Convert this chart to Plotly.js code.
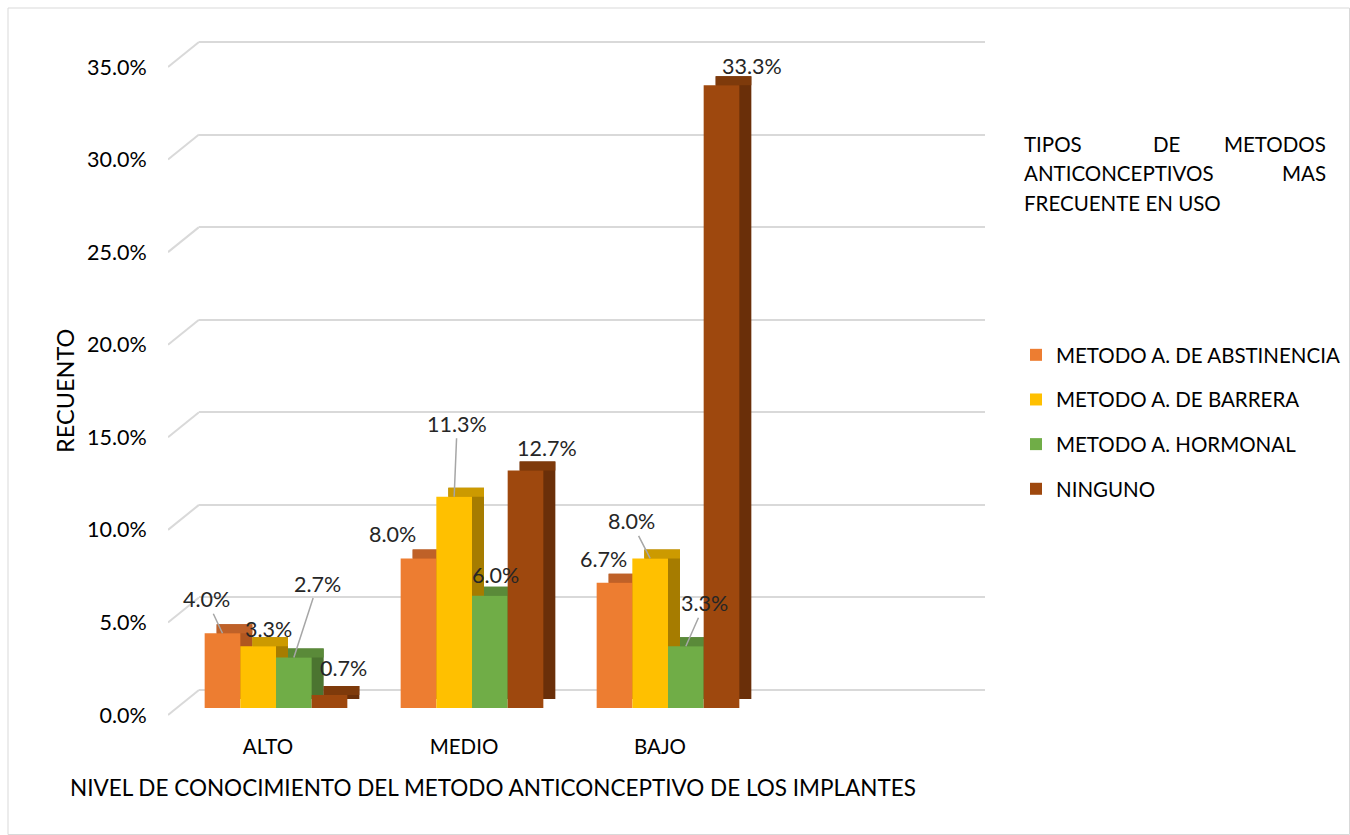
<!DOCTYPE html>
<html>
<head>
<meta charset="utf-8">
<script src="https://cdn.plot.ly/plotly-3.0.1.min.js"></script>
<style>html,body{margin:0;padding:0;background:#fff;}#chart{width:1350px;height:835px;}</style>
</head>
<body>
<div id="chart"></div>
<script>
// ---------- data ----------
const categories = ['ALTO', 'MEDIO', 'BAJO'];
const seriesNames = ['METODO A. DE ABSTINENCIA', 'METODO A. DE BARRERA', 'METODO A. HORMONAL', 'NINGUNO'];
const abstinencia = [4.0, 8.0, 6.7];
const barrera = [3.3, 11.3, 8.0];
const hormonal = [2.7, 6.0, 3.3];
const ninguno = [0.7, 12.7, 33.3];
const yTickVals = [0, 5, 10, 15, 20, 25, 30, 35];
const yTickText = ['0.0%', '5.0%', '10.0%', '15.0%', '20.0%', '25.0%', '30.0%', '35.0%'];
const legendTitleLines = [['TIPOS', 'DE', 'METODOS'], ['ANTICONCEPTIVOS', 'MAS'], ['FRECUENTE EN USO']];
const yTitle = 'RECUENTO';
const xTitle = 'NIVEL DE CONOCIMIENTO DEL METODO ANTICONCEPTIVO DE LOS IMPLANTES';

// ---------- styles / layout helpers ----------
const series = [abstinencia, barrera, hormonal, ninguno];
const frontColors = ['#ED7D31', '#FFC000', '#70AD47', '#9E480E'];
const topColors = ['#BF6128', '#CC9A00', '#5A8A39', '#7E3A0B'];
const sideColors = ['#B0561F', '#A67C00', '#4B7430', '#6A2F09'];
const FONT = 'Lato, "Open Sans", sans-serif';
const W = 1350, H = 835;
const fx = p => p / W;
const fy = p => (H - p) / H;
const catIdx = categories.map((c, i) => i);
const barW = 0.182;
const offsets = [-2 * barW, -barW, 0, barW];
const frontScale = (708 - 53.5) / 35;  // px per unit on front axes
const topDepthUnits = 9 / frontScale;
const labelScale = (715 - 67) / 35;
const slantUnits = 25 / labelScale;
const gridPad = 0.5 * labelScale;  // px of padding so edge gridlines are drawn
const slantPad = 2 * labelScale;

const traces = [];
// invisible anchors so that the helper subplots are created
traces.push({type: 'scatter', mode: 'markers', x: [0.5], y: [0], xaxis: 'x', yaxis: 'y',
  marker: {opacity: 0}, hoverinfo: 'skip', showlegend: false});
traces.push({type: 'scatter', mode: 'markers', x: [0], y: [0], xaxis: 'x2', yaxis: 'y2',
  marker: {opacity: 0}, hoverinfo: 'skip', showlegend: false});
// slant floor/wall grid connectors
const sx = [], sy = [];
yTickVals.forEach(v => { sx.push(0, 1, null); sy.push(v, v + slantUnits, null); });
traces.push({type: 'scatter', mode: 'lines', x: sx, y: sy, xaxis: 'x5', yaxis: 'y5',
  line: {color: '#d9d9d9', width: 2}, hoverinfo: 'skip', showlegend: false});
// side faces (shifted copies)
series.forEach((vals, i) => traces.push({type: 'bar', x: catIdx, y: vals, xaxis: 'x3', yaxis: 'y3',
  offset: offsets[i], width: barW, marker: {color: sideColors[i], line: {width: 0}},
  showlegend: false, hoverinfo: 'skip'}));
// top faces (shifted strips)
series.forEach((vals, i) => traces.push({type: 'bar', x: catIdx, y: vals.map(() => topDepthUnits),
  base: vals.map(v => v - topDepthUnits), xaxis: 'x3', yaxis: 'y3',
  offset: offsets[i], width: barW, marker: {color: topColors[i], line: {width: 0}},
  showlegend: false, hoverinfo: 'skip'}));
// front faces
series.forEach((vals, i) => traces.push({type: 'bar', x: catIdx, y: vals, xaxis: 'x4', yaxis: 'y4',
  offset: offsets[i], width: barW, name: seriesNames[i], legendgroup: 'g' + i,
  marker: {color: frontColors[i], line: {width: 0}}}));

// data labels: [dx, dy] pixel offsets of label centre from bar top, and leader flag
const labelPos = [
  [[-16, -34, true], [-26, -24, false], [-11, -24, false]],
  [[10, -17, false], [3, -73, true], [-19, -37, true]],
  [[24, -74, true], [6, -21, false], [19, -43, true]],
  [[14, -27, false], [21, -23, false], [30, -19, false]]
];
const annotations = [];
series.forEach((vals, i) => vals.forEach((v, j) => {
  const p = labelPos[i][j];
  annotations.push({xref: 'x4', yref: 'y4', x: j + offsets[i] + barW / 2, y: v,
    text: v.toFixed(1) + '%', showarrow: true, ax: p[0], ay: p[1], axref: 'pixel', ayref: 'pixel',
    arrowhead: 0, arrowwidth: 1.5, arrowcolor: p[2] ? '#A6A6A6' : 'rgba(0,0,0,0)',
    standoff: 0, startstandoff: 0, font: {family: FONT, size: 21.5, color: '#262626'}});
}));
// axis titles
annotations.push({xref: 'paper', yref: 'paper', x: fx(65), xanchor: 'center', y: fy(391), yanchor: 'middle',
  text: yTitle, textangle: -90, showarrow: false, font: {family: FONT, size: 23.5, color: '#000'}});
annotations.push({xref: 'paper', yref: 'paper', x: fx(68), xanchor: 'left', y: fy(787), yanchor: 'middle',
  text: xTitle, showarrow: false, font: {family: FONT, size: 22.5, color: '#000'}});
// justified legend title
const lineYs = [144, 173, 203];
const L = 1022, R = 1328;
legendTitleLines.forEach((words, li) => {
  words.forEach((w, wi) => {
    let x, anchor;
    if (words.length === 1 || wi === 0) { x = L; anchor = 'left'; }
    else if (wi === words.length - 1) { x = R; anchor = 'right'; }
    else { x = 1166; anchor = 'center'; }
    annotations.push({xref: 'paper', yref: 'paper', x: fx(x), xanchor: anchor, y: fy(lineYs[li]),
      yanchor: 'middle', text: w, showarrow: false, font: {family: FONT, size: 20.5, color: '#000'}});
  });
});

const hidden = {visible: false, fixedrange: true};
const layout = {
  width: W, height: H,
  margin: {l: 0, r: 0, t: 0, b: 0, pad: 0},
  paper_bgcolor: '#fff', plot_bgcolor: 'rgba(0,0,0,0)',
  barmode: 'overlay', showlegend: true,
  font: {family: FONT, color: '#000'},
  // back wall gridlines
  xaxis: {domain: [fx(199), fx(985)], range: [0, 1], anchor: 'y', showgrid: false, zeroline: false,
    showline: false, showticklabels: false, ticks: '', fixedrange: true},
  yaxis: {domain: [fy(690 + gridPad), fy(42 - gridPad)], range: [-0.5, 35.5], anchor: 'x', tickvals: yTickVals,
    showticklabels: false, showgrid: true, gridcolor: '#d9d9d9', gridwidth: 2, zeroline: false,
    showline: false, ticks: '', fixedrange: true},
  // tick label axes (front plane)
  xaxis2: {domain: [fx(170), fx(758)], range: [-0.5, 2.5], anchor: 'y2', tickmode: 'array',
    tickvals: catIdx, ticktext: categories, showgrid: false, zeroline: false, showline: false,
    ticks: 'outside', ticklen: 13, tickcolor: 'rgba(0,0,0,0)',
    tickfont: {family: FONT, size: 20.5, color: '#000'}, fixedrange: true},
  yaxis2: {domain: [fy(715), fy(67)], range: [0, 35], anchor: 'x2', tickmode: 'array',
    tickvals: yTickVals, ticktext: yTickText, showgrid: false, zeroline: false, showline: false,
    ticks: 'outside', ticklen: 18, tickcolor: 'rgba(0,0,0,0)',
    tickfont: {family: FONT, size: 21.5, color: '#000'}, fixedrange: true},
  // shifted (depth) axes
  xaxis3: Object.assign({}, hidden, {domain: [fx(190), fx(778)], range: [-0.5, 2.5], anchor: 'y3'}),
  yaxis3: Object.assign({}, hidden, {domain: [fy(699), fy(44.5)], range: [0, 35], anchor: 'x3'}),
  // front bars
  xaxis4: Object.assign({}, hidden, {domain: [fx(178), fx(766)], range: [-0.5, 2.5], anchor: 'y4'}),
  yaxis4: Object.assign({}, hidden, {domain: [fy(708), fy(53.5)], range: [0, 35], anchor: 'x4'}),
  // slant connector axes (same scale as the label axis, padded so nothing is clipped)
  xaxis5: Object.assign({}, hidden, {domain: [fx(168), fx(199)], range: [0, 1], anchor: 'y5'}),
  yaxis5: Object.assign({}, hidden, {domain: [fy(715 + slantPad), fy(67 - slantPad)], range: [-2, 37], anchor: 'x5'}),
  legend: {x: fx(1016), y: fy(335), xanchor: 'left', yanchor: 'top', traceorder: 'grouped',
    tracegroupgap: 15, font: {family: FONT, size: 20.5, color: '#000'}, bgcolor: 'rgba(0,0,0,0)'},
  annotations: annotations,
  shapes: [{type: 'rect', xref: 'paper', yref: 'paper', x0: fx(8), x1: fx(1349.5), y0: fy(834.5), y1: fy(8),
    line: {color: '#d9d9d9', width: 1}, fillcolor: 'rgba(0,0,0,0)', layer: 'below'}]
};
Plotly.newPlot('chart', traces, layout, {displayModeBar: false, staticPlot: true});
</script>
</body>
</html>
